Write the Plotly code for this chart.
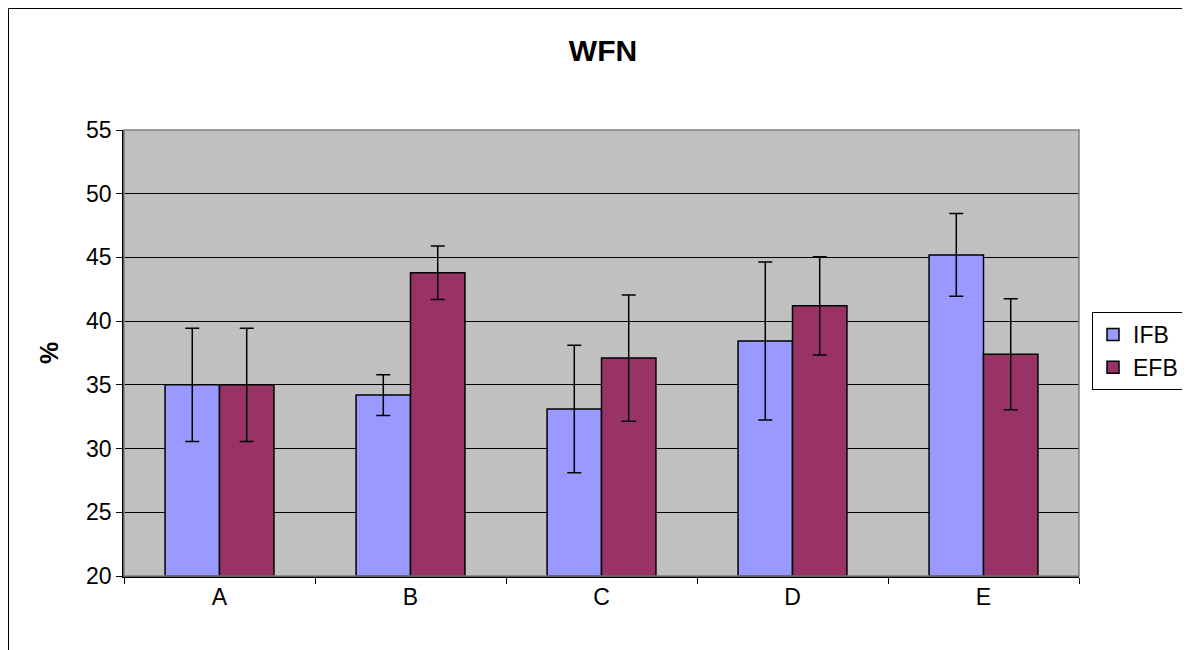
import plotly.graph_objects as go

categories = ["A", "B", "C", "D", "E"]
ifb_values = [35.0, 34.2, 33.1, 38.45, 45.2]
ifb_errors = [4.45, 1.6, 5.0, 6.2, 3.25]
efb_values = [35.0, 43.8, 37.1, 41.2, 37.4]
efb_errors = [4.45, 2.1, 4.95, 3.85, 4.35]
y_ticks = [20, 25, 30, 35, 40, 45, 50, 55]

W, H = 1190, 650
OFF = 8  # browser body margin
L, R, T, B = 124 - OFF, 1079 - OFF, 130 - OFF, 576 - OFF

fig = go.Figure()
fig.add_trace(go.Bar(
    name="IFB", x=categories, y=[v - 20 for v in ifb_values], base=20,
    marker=dict(color="#9999FF", line=dict(color="black", width=1.5)),
    error_y=dict(type="data", array=ifb_errors, color="black", thickness=1.5, width=7),
    hoverinfo="skip",
))
fig.add_trace(go.Bar(
    name="EFB", x=categories, y=[v - 20 for v in efb_values], base=20,
    marker=dict(color="#993366", line=dict(color="black", width=1.5)),
    error_y=dict(type="data", array=efb_errors, color="black", thickness=1.5, width=7),
    hoverinfo="skip",
))

pw, ph = R - L, B - T
fig.add_shape(type="rect", xref="paper", yref="paper",
              x0=(0.5 - L) / pw, x1=(W + 30 - L) / pw,
              y0=(B - (H + 30)) / ph, y1=(B - 0.5) / ph,
              line=dict(color="black", width=1), layer="below")
fig.add_shape(type="rect", xref="paper", yref="paper", x0=0, x1=1, y0=0, y1=1,
              line=dict(color="#808080", width=1.5), layer="above")

fig.update_layout(
    width=W, height=H,
    margin=dict(l=L, r=W - R, t=T, b=H - B, autoexpand=False),
    paper_bgcolor="white", plot_bgcolor="#C0C0C0",
    barmode="group", bargap=0.43, bargroupgap=0,
    font=dict(family="Liberation Sans, Arial", size=23, color="black"),
    title=dict(text="<b>WFN</b>", x=(603 - OFF) / W, xanchor="center",
               y=1 - (50 - OFF) / H, yanchor="middle", font=dict(size=30)),
    showlegend=True,
    legend=dict(x=(1092 - OFF - L) / pw, xanchor="left", y=(B - (312 - OFF)) / ph, yanchor="top",
                bordercolor="black", borderwidth=1, bgcolor="white",
                font=dict(size=23), itemwidth=30, tracegroupgap=0),
    xaxis=dict(showgrid=False, showline=True, linecolor="black", linewidth=1.5,
               ticks="outside", ticklen=6, tickcolor="black", tickson="boundaries",
               tickfont=dict(size=23), mirror=False),
    yaxis=dict(range=[20, 55], tickvals=y_ticks, showgrid=True, gridcolor="black",
               gridwidth=1, showline=True, linecolor="black", linewidth=1.5,
               ticks="outside", ticklen=6, tickcolor="black", zeroline=False,
               tickfont=dict(size=23),
               title=dict(text="<b>%</b>", font=dict(size=25), standoff=20)),
)

fig.write_html("out.html")
